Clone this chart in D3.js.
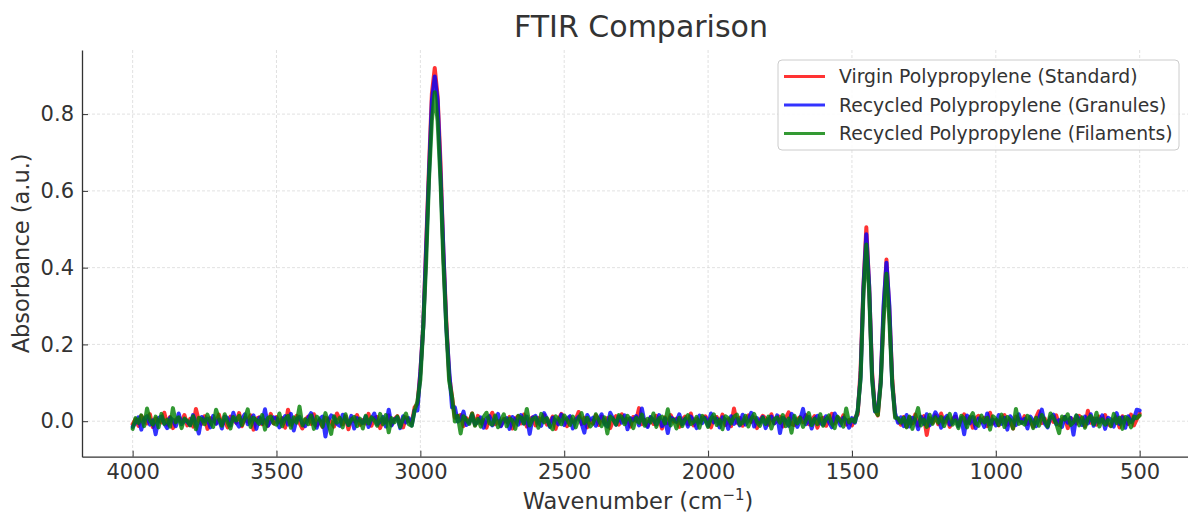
<!DOCTYPE html>
<html>
<head>
<meta charset="utf-8">
<script src="https://cdn.jsdelivr.net/npm/d3@7"></script>
<style>
  body { margin: 0; background: #fff; }
  svg { display: block; font-family: "DejaVu Sans", sans-serif; }
</style>
</head>
<body>
<script>
// Wavenumber sampling grid (cm^-1), 4000 down to 500 every 10
const wavenumbers = d3.range(4000, 499, -10);

const seriesNames = [
  "Virgin Polypropylene (Standard)",
  "Recycled Polypropylene (Granules)",
  "Recycled Polypropylene (Filaments)"
];
const seriesColors = ["#ff0000", "#0000ff", "#008000"];

const xTickValues = [4000, 3500, 3000, 2500, 2000, 1500, 1000, 500];
const yTickValues = [0.0, 0.2, 0.4, 0.6, 0.8];

const virginPP = [
-.008,.005,-.012,.014,.003,-.006,.018,-.015,.007,.002,
-.003,.022,-.009,.011,-.018,.004,.009,-.002,.016,-.011,
.006,-.014,.032,.001,-.007,.013,-.020,.008,.003,-.005,
.017,-.010,.002,-.016,.012,.006,-.004,.021,-.013,.009,
-.001,.015,-.022,.007,.010,-.008,.003,-.012,.019,-.006,
.011,-.003,.008,-.017,.030,-.009,.001,.014,-.005,-.019,
.004,.012,-.007,.018,-.011,.002,-.015,.009,.006,-.002,
-.014,.020,.005,-.008,.013,-.021,.007,.000,.016,-.010,
.003,-.006,.019,-.012,.008,.011,-.018,.004,-.003,.015,
-.009,.006,.013,-.004,-.016,.010,.003,-.005,.036,.045,
.129,.248,.458,.662,.853,.920,.846,.675,.443,.265,
.120,.064,.009,.012,.016,-.013,.008,-.002,.020,-.010,
.014,-.005,.003,-.017,.009,.022,-.008,.001,-.012,.006,
-.002,.011,-.019,.007,.013,-.006,.017,-.014,.004,.010,
-.011,.008,.002,.016,-.009,-.003,.012,-.020,.006,.019,
.007,-.013,.010,-.001,.005,.024,-.007,.009,-.016,.003,
-.006,.015,-.010,.012,-.004,.008,-.018,.002,.013,-.009,
.018,-.002,.006,-.014,.011,.001,.034,-.008,.004,-.012,
.009,-.007,.014,.003,-.019,.010,-.005,.016,-.001,.007,
-.015,.004,.012,-.008,.020,-.011,.006,-.003,.009,.013,
.002,-.016,.008,.011,-.006,.017,-.010,.005,-.013,.033,
-.004,.009,-.012,.006,.015,-.002,.010,-.018,.003,.014,
.007,-.009,.018,-.005,.001,.012,-.014,.008,.023,-.007,
-.010,.005,.011,-.003,.016,-.008,.002,.013,-.017,.006,
.009,-.012,.004,.019,-.006,.010,-.002,.015,-.009,.003,
-.011,.008,.018,.133,.352,.505,.348,.128,.031,.015,
.107,.286,.421,.290,.111,.013,.004,-.009,.011,-.014,
.010,-.006,.017,-.012,.005,.013,-.036,.008,-.004,.015,
-.008,.020,-.003,.009,-.015,.006,.012,-.010,.002,.018,
-.005,.011,-.017,.007,.014,-.002,.009,-.013,.022,-.006,
.003,-.011,.008,.016,-.009,.004,-.019,.012,.006,-.003,
.013,-.007,.002,-.014,.010,.026,-.005,.007,-.012,.009,
-.002,.015,-.010,.005,.011,-.018,.008,.003,-.006,.014,
.006,-.013,.027,-.004,.007,-.009,.012,-.001,.016,-.008,
-.012,.004,.010,-.016,.013,.002,-.007,.017,-.011,.005,
.020
];

const recycledGranules = [
-.015,-.004,.010,-.022,.006,.013,-.009,.002,-.034,.008,
.012,-.006,-.018,.009,.003,-.013,.020,-.008,.005,-.002,
-.010,.016,-.005,-.032,.011,.001,.007,-.016,.014,-.007,
.004,-.019,.012,.008,-.011,.022,-.003,-.014,.006,.018,
-.008,.003,.015,-.020,.009,-.005,.031,-.012,-.001,.010,
.007,-.016,.002,.013,-.009,.019,-.024,.005,.011,-.006,
-.013,.008,.021,-.004,-.017,.006,.012,-.040,.003,.015,
.009,-.007,-.012,.017,.004,-.010,.014,-.019,.008,.001,
-.005,.012,-.015,.006,.020,-.008,-.002,.011,-.014,.030,
-.011,.005,.009,-.018,.013,-.003,.008,-.011,.028,.028,
.128,.245,.446,.644,.834,.898,.836,.646,.447,.246,
.134,.036,.036,-.001,.004,.025,-.010,-.004,.015,-.008,
-.002,.010,-.017,.007,.013,-.011,.005,.019,-.013,.002,
.008,-.020,.011,.004,-.009,.016,-.006,.012,-.033,.009,
.014,-.003,-.012,.021,.006,-.015,.009,.002,-.008,.017,
-.010,.007,.013,-.019,.004,.011,-.005,-.030,.016,.003,
.009,-.012,.005,.018,-.007,-.014,.022,.006,-.009,.012,
-.004,.015,-.021,.008,.002,.013,-.011,.033,-.006,-.015,
.011,.003,-.009,.016,-.013,.007,-.031,.010,.005,-.002,
.018,-.008,.006,-.014,.012,.001,-.018,.015,-.005,.009,
-.012,.020,-.003,.007,-.016,.010,.004,-.020,.013,-.007,
.006,-.011,.017,-.009,.003,.022,-.014,.008,-.004,.011,
-.018,.005,.012,-.006,.015,-.031,.009,.002,-.012,.019,
.007,-.015,.004,.032,-.008,.011,-.019,.006,.014,-.005,
-.009,.013,-.002,-.016,.020,.005,-.011,.009,.003,-.017,
.008,-.004,.027,.114,.350,.487,.352,.117,.026,.027,
.101,.303,.413,.302,.096,.021,-.004,.010,-.013,.016,
-.014,.009,.004,-.021,.012,-.007,.018,-.011,.005,.023,
.010,-.017,.006,.014,-.009,-.003,.019,-.013,.008,-.034,
.015,-.005,.011,-.018,.007,.002,-.015,.020,-.008,.004,
-.011,.016,-.007,.009,-.022,.013,.003,-.010,.018,-.004,
.006,-.019,.012,.001,-.013,.008,.030,-.006,-.016,.010,
.017,-.008,.003,-.015,.011,-.004,.009,-.035,.014,.005,
-.010,.012,-.006,.018,-.012,.007,-.003,.015,-.020,.009,
.004,-.014,.021,-.007,.010,-.017,.013,-.002,.006,.030,
.028
];

const recycledFilaments = [
-.020,.008,-.005,.015,-.013,.033,.003,-.009,.012,-.016,
.019,-.007,.004,-.014,.034,-.003,.010,-.018,.007,.001,
-.011,.013,-.021,.009,.005,-.008,.017,-.002,-.015,.030,
.006,-.012,.018,-.004,-.019,.011,.002,.014,-.010,.007,
.031,-.015,.009,.003,-.007,.016,-.022,.008,.012,-.005,
-.009,.020,-.013,.006,.014,-.017,.010,-.004,.038,-.011,
.005,-.008,.015,-.020,.012,.003,-.014,.021,-.006,-.033,
.013,-.004,.009,-.016,.018,-.010,.004,.011,-.013,.007,
-.019,.014,-.006,.010,.002,-.012,.019,-.008,.016,-.029,
.008,-.003,.012,-.015,.006,.020,-.008,-.012,.028,.052,
.108,.244,.412,.629,.783,.857,.781,.626,.413,.245,
.105,.064,-.001,.014,-.032,.013,.004,-.007,.020,-.012,
.006,-.014,.011,.022,-.005,-.009,.015,-.016,.003,.018,
-.013,.007,.002,-.020,.014,.009,-.006,.032,-.011,.005,
.010,-.017,.019,-.003,.008,-.012,-.021,.013,.006,-.008,
.015,.004,-.010,.012,-.016,.007,.021,-.005,.009,-.014,
-.006,.018,.003,-.013,.010,-.032,.012,.005,-.009,.016,
.011,-.008,.014,.002,-.018,.009,-.004,.017,-.012,.006,
-.003,.020,-.015,.007,.012,-.006,.031,-.011,.004,-.019,
.009,-.013,.005,.016,-.008,-.002,.011,-.017,.014,.003,
-.015,.007,.018,-.010,.004,-.021,.013,.008,-.006,.012,
.017,-.009,-.004,.014,-.014,.006,.019,-.002,-.012,.009,
-.007,.012,-.019,.005,.010,-.004,.016,-.013,.007,-.030,
.014,-.006,.009,-.015,.003,.021,-.010,.006,-.008,.018,
-.012,.005,.015,-.007,-.018,.012,.002,-.014,.033,-.003,
.005,-.002,.027,.110,.332,.460,.333,.109,.028,.016,
.098,.264,.384,.263,.100,.009,.008,-.004,.009,-.016,
.012,-.020,.008,.034,-.011,.004,-.015,.017,-.007,.010,
-.004,.011,-.013,.006,.019,-.009,.002,-.018,.014,.007,
-.016,.008,.021,-.006,-.012,.015,-.003,.009,-.022,.013,
.006,-.010,.017,-.015,.011,.003,-.019,.032,-.007,-.002,
-.009,.014,.005,-.018,.009,-.012,.016,.001,-.014,.020,
.008,-.006,-.031,.012,.004,.018,-.010,-.003,.015,-.011,
.010,-.017,.007,.013,-.008,.022,-.014,.005,-.009,.003,
-.013,.019,-.005,.009,-.020,.011,.006,-.016,.012,.008,
.015
];

const allSeries = [virginPP, recycledGranules, recycledFilaments];

const W = 1188, H = 518;
const plot = { left: 82, right: 1190.3, top: 50, bottom: 456.7 };

const svg = d3.select("body").append("svg").attr("width", W).attr("height", H);

const x = d3.scaleLinear().domain([4176, 324]).range([plot.left, plot.right]);
const y = d3.scaleLinear().domain([-0.0925, 0.967]).range([plot.bottom, plot.top]);

// grid
const grid = svg.append("g").attr("stroke", "#d9d9d9").attr("stroke-width", 0.8).attr("stroke-dasharray", "3,2");
grid.selectAll("line.vx").data(xTickValues).join("line")
  .attr("x1", d => x(d)).attr("x2", d => x(d)).attr("y1", plot.top).attr("y2", plot.bottom);
grid.selectAll("line.hy").data(yTickValues).join("line")
  .attr("y1", d => y(d)).attr("y2", d => y(d)).attr("x1", plot.left).attr("x2", plot.right);

// lines
const line = d3.line().x((d, i) => x(wavenumbers[i])).y(d => y(d));
svg.append("g").selectAll("path").data(allSeries).join("path")
  .attr("d", d => line(d))
  .attr("fill", "none")
  .attr("stroke", (d, i) => seriesColors[i])
  .attr("stroke-opacity", 0.8)
  .attr("stroke-width", 4)
  .attr("stroke-linejoin", "round")
  .attr("stroke-linecap", "round");

// axes
const xAxis = d3.axisBottom(x).tickValues(xTickValues).tickFormat(d3.format("d"))
  .tickSizeInner(-6).tickSizeOuter(0).tickPadding(7.5);
const gx = svg.append("g").attr("transform", `translate(0,${plot.bottom})`).call(xAxis);
gx.selectAll("text").attr("font-size", 21).attr("fill", "#333").attr("font-family", "DejaVu Sans");
gx.selectAll("line").attr("stroke", "#333");
gx.select(".domain").attr("stroke", "#333").attr("stroke-width", 1.3);

const yAxis = d3.axisLeft(y).tickValues(yTickValues).tickFormat(d3.format(".1f"))
  .tickSizeInner(-6).tickSizeOuter(0).tickPadding(8);
const gy = svg.append("g").attr("transform", `translate(${plot.left},0)`).call(yAxis);
gy.selectAll("text").attr("font-size", 21).attr("fill", "#333").attr("font-family", "DejaVu Sans");
gy.selectAll("line").attr("stroke", "#333");
gy.select(".domain").attr("stroke", "#333").attr("stroke-width", 1.3);

// title
svg.append("text").attr("x", 641).attr("y", 37).attr("text-anchor", "middle")
  .attr("font-size", 30).attr("fill", "#333").text("FTIR Comparison");

// x label
const xl = svg.append("text").attr("x", 638).attr("y", 509).attr("text-anchor", "middle")
  .attr("font-size", 22.5).attr("fill", "#333");
xl.append("tspan").text("Wavenumber (cm");
xl.append("tspan").attr("dy", -9).attr("font-size", 15).text("\u22121");
xl.append("tspan").attr("dy", 9).text(")");

// y label
svg.append("text").attr("transform", `translate(29,${(plot.top + plot.bottom) / 2}) rotate(-90)`)
  .attr("text-anchor", "middle").attr("font-size", 22.5).attr("fill", "#333").text("Absorbance (a.u.)");

// legend
const lg = svg.append("g").attr("transform", "translate(778,60)");
lg.append("rect").attr("width", 401).attr("height", 90).attr("rx", 4)
  .attr("fill", "#fff").attr("fill-opacity", 0.85).attr("stroke", "#cccccc");
const items = lg.selectAll("g.item").data(seriesNames).join("g")
  .attr("transform", (d, i) => `translate(0,${16.5 + i * 28.5})`);
items.append("line").attr("x1", 6).attr("x2", 47).attr("y1", 0).attr("y2", 0)
  .attr("stroke", (d, i) => seriesColors[i]).attr("stroke-opacity", 0.8).attr("stroke-width", 3);
items.append("text").attr("x", 61).attr("dy", "0.35em").attr("font-size", 18.8).attr("fill", "#333").text(d => d);
</script>
</body>
</html>
